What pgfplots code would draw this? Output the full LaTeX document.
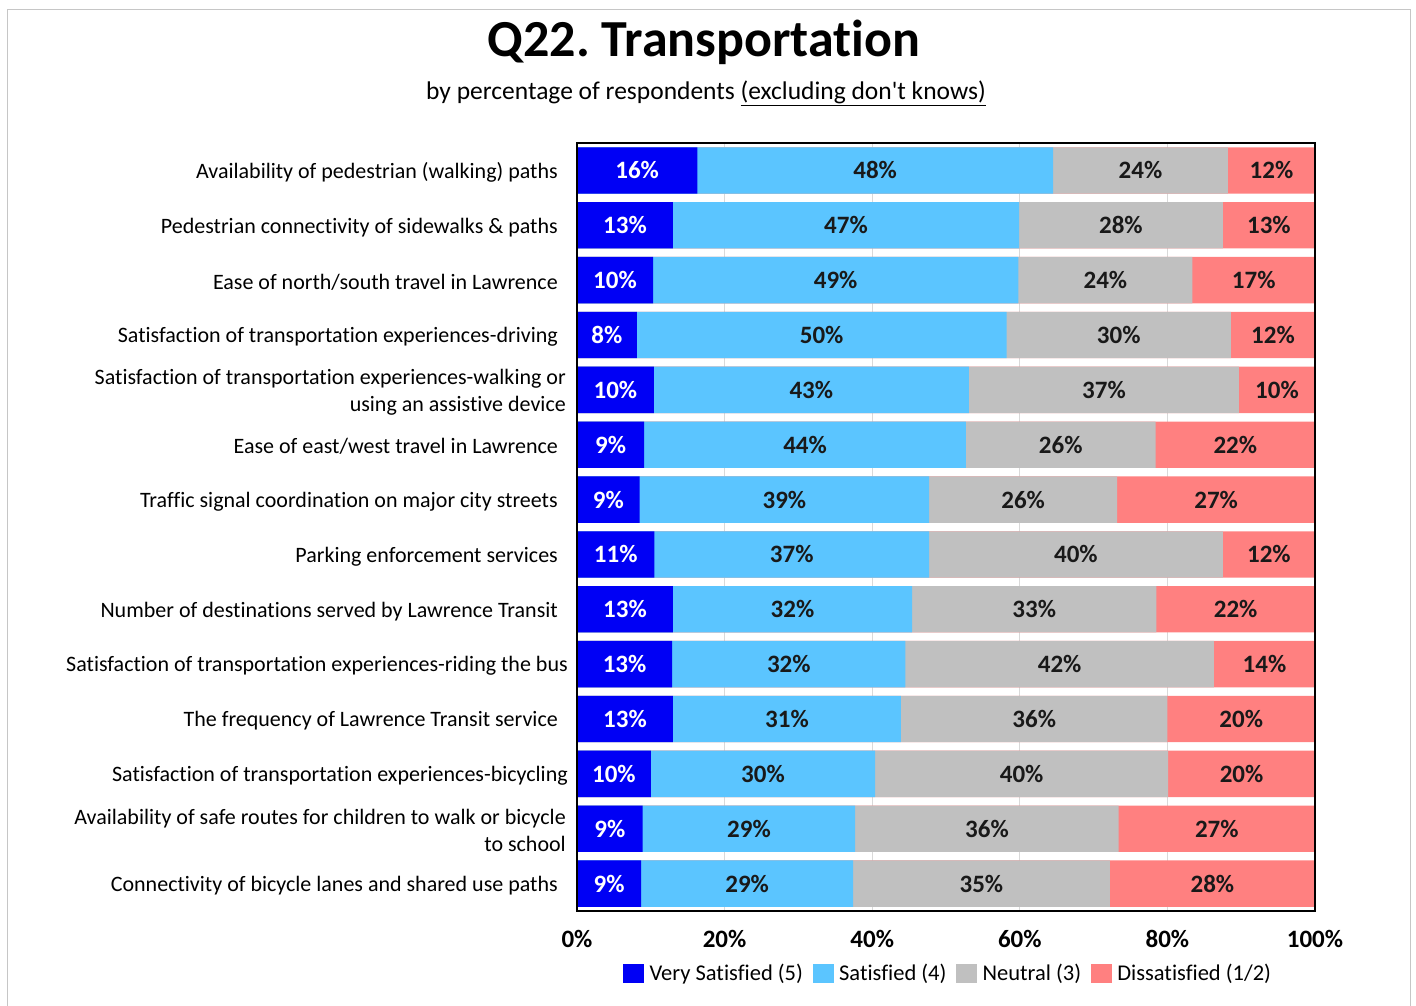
\documentclass[border=0pt]{standalone}
\usepackage{pgfplots}
\pgfplotsset{compat=1.18}
\usepackage{pgfplotstable}
\usepackage{fontspec}
\setmainfont[Ligatures=NoCommon]{Carlito}
\frenchspacing
\definecolor{vs}{RGB}{0,0,245}
\definecolor{sat}{RGB}{91,197,255}
\definecolor{neu}{RGB}{192,192,192}
\definecolor{dis}{RGB}{255,128,128}
\newcommand\p[1]{\hspace*{#1pt}}
\pgfplotstableread{
row vs s n d lvs ls ln ld
0 16.3 48.2 23.7 11.8 16 48 24 12
1 13.0 46.9 27.6 12.5 13 47 28 13
2 10.3 49.5 23.6 16.6 10 49 24 17
3 8.1 50.1 30.4 11.4 8 50 30 12
4 10.4 42.7 36.6 10.3 10 43 37 10
5 9.1 43.6 25.7 21.6 9 44 26 22
6 8.5 39.2 25.5 26.8 9 39 26 27
7 10.5 37.2 39.8 12.5 11 37 40 12
8 13.0 32.4 33.1 21.5 13 32 33 22
9 12.9 31.6 41.8 13.7 13 32 42 14
10 13.0 30.9 36.1 20.0 13 31 36 20
11 10.0 30.4 39.7 19.9 10 30 40 20
12 8.9 28.8 35.7 26.6 9 29 36 27
13 8.7 28.7 34.8 27.8 9 29 35 28
}\data
\begin{document}
\begin{tikzpicture}
\useasboundingbox (0,0) rectangle (1416pt,1006pt);
\draw[gray!45, line width=1pt] (7pt,0) -- (7pt,996pt) -- (1410pt,996pt) -- (1410pt,0);
\node[font=\bfseries\fontsize{52}{52}\selectfont] at (704pt,964pt) {Q22. Transportation};
\node[font=\fontsize{25.5}{25.5}\selectfont] at (706pt,913pt) {by percentage of respondents \underline{(excluding don\textquotesingle t knows)}};
\begin{axis}[
  at={(577pt,95pt)}, anchor=south west,
  width=738pt, height=768pt, scale only axis,
  clip=false,
  xmin=0, xmax=100, ymin=-0.5, ymax=13.5, y dir=reverse,
  xtick={0,20,...,100}, xticklabels={0\%,20\%,40\%,60\%,80\%,100\%},
  xticklabel style={font=\bfseries\fontsize{25}{25}\selectfont, yshift=-16pt},
  ytick={0,...,13},
  yticklabels={
    {Availability of pedestrian (walking) paths\p{10}},
    {Pedestrian connectivity of sidewalks \& paths\p{10}},
    {Ease of north/south travel in Lawrence\p{10}},
    {Satisfaction of transportation experiences-driving\p{10}},
    {Satisfaction of transportation experiences-walking or\p{2}\\using an assistive device\p{2}},
    {Ease of east/west travel in Lawrence\p{10}},
    {Traffic signal coordination on major city streets\p{10}},
    {Parking enforcement services\p{10}},
    {Number of destinations served by Lawrence Transit\p{10}},
    {Satisfaction of transportation experiences-riding the bus},
    {The frequency of Lawrence Transit service\p{10}},
    {Satisfaction of transportation experiences-bicycling},
    {Availability of safe routes for children to walk or bicycle\p{2}\\to school\p{2}},
    {Connectivity of bicycle lanes and shared use paths\p{10}}},
  yticklabel style={font=\fontsize{22}{27}\selectfont, align=right, anchor=east, inner sep=0pt, xshift=-9pt, yshift=-2pt},
  major tick length=0pt,
  xmajorgrids, major grid style={gray!30, line width=1pt},
  axis line style={draw=none},
  legend style={at={(axis description cs:0.503,-0.0807)}, anchor=center, draw=none, fill=none,
    legend columns=4, font=\fontsize{22.5}{22.5}\selectfont, inner sep=0pt,
    /tikz/every even column/.append style={column sep=8pt}},
]
\addlegendimage{legend image code/.code={\fill[vs] (0pt,-9pt) rectangle (20pt,9pt);}}
\addlegendentry{\,Very Satisfied (5)}
\addlegendimage{legend image code/.code={\fill[sat] (0pt,-9pt) rectangle (20pt,9pt);}}
\addlegendentry{\,Satisfied (4)}
\addlegendimage{legend image code/.code={\fill[neu] (0pt,-9pt) rectangle (20pt,9pt);}}
\addlegendentry{\,Neutral (3)}
\addlegendimage{legend image code/.code={\fill[dis] (0pt,-9pt) rectangle (20pt,9pt);}}
\addlegendentry{\,Dissatisfied (1/2)}
\pgfplotsset{bars/.style={xbar, bar shift=0pt, bar width=0.845, draw=none, forget plot},
  lab/.style={draw=none, mark=none, forget plot, point meta=explicit symbolic,
    nodes near coords={\pgfplotspointmeta\%},
    every node near coord/.style={anchor=center, font=\bfseries\fontsize{25}{25}\selectfont, text=#1}}}
\addplot[bars, fill=dis] table[x expr=\thisrow{vs}+\thisrow{s}+\thisrow{n}+\thisrow{d}, y=row] {\data};
\addplot[bars, fill=neu] table[x expr=\thisrow{vs}+\thisrow{s}+\thisrow{n}, y=row] {\data};
\addplot[bars, fill=sat] table[x expr=\thisrow{vs}+\thisrow{s}, y=row] {\data};
\addplot[bars, fill=vs] table[x=vs, y=row] {\data};
\addplot[lab=white] table[x expr=\thisrow{vs}/2, y=row, meta=lvs] {\data};
\addplot[lab=black!90] table[x expr=\thisrow{vs}+\thisrow{s}/2, y=row, meta=ls] {\data};
\addplot[lab=black!90] table[x expr=\thisrow{vs}+\thisrow{s}+\thisrow{n}/2, y=row, meta=ln] {\data};
\addplot[lab=black!90] table[x expr=\thisrow{vs}+\thisrow{s}+\thisrow{n}+\thisrow{d}/2, y=row, meta=ld] {\data};
\draw[line width=2.5pt] (axis cs:0,-0.5) rectangle (axis cs:100,13.5);
\end{axis}
\end{tikzpicture}
\end{document}
